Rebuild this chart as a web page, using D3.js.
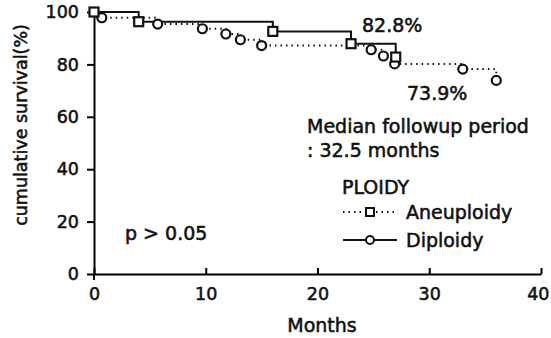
<!DOCTYPE html>
<html>
<head>
<meta charset="utf-8">
<script src="https://cdn.jsdelivr.net/npm/d3@7"></script>
<style>
  body { margin: 0; background: #fff; }
  text { font-family: "DejaVu Sans", sans-serif; fill: #111; stroke: #111; stroke-width: 0.55px; }
</style>
</head>
<body>
<div id="chart"></div>
<script>
// solid line, squares
let solidMonths = [0, 4, 16, 23, 27]
let solidSurv = [100, 96.3, 92.6, 87.9, 82.8]

// dotted line, circles
let dotMonths = [0, 0.7, 5.7, 9.7, 11.8, 13.1, 15, 24.8, 25.9, 26.9, 33, 36]
let dotSurv = [100, 97.8, 95.4, 93.6, 91.6, 89.4, 87.2, 85.6, 83.2, 80.2, 78.2, 73.9]

let xTicks = [0, 10, 20, 30, 40]
let yTicks = [0, 20, 40, 60, 80, 100]

let svgWidth = 551
let svgHeight = 338

let x = d3.scaleLinear().domain([0, 40]).range([94, 541])
let y = d3.scaleLinear().domain([0, 100]).range([274, 12])

let svg = d3.select('#chart')
    .append('svg')
        .attr('width', svgWidth)
        .attr('height', svgHeight)

let solidData = solidMonths.map(function(m, i){ return {m: m, s: solidSurv[i]} })
let dotData = dotMonths.map(function(m, i){ return {m: m, s: dotSurv[i]} })

let stepLine = d3.line()
    .x(function(d){ return x(d.m) })
    .y(function(d){ return y(d.s) })
    .curve(d3.curveStepAfter)

//AXES
svg.append('g')
    .attr('transform', `translate(0, ${y(0)})`)
    .call(d3.axisBottom(x).tickValues(xTicks).tickSizeInner(-6).tickSizeOuter(0).tickPadding(14))
    .call(function(g){
        g.select('.domain').attr('stroke-width', 2)
        g.selectAll('.tick line').attr('stroke-width', 2)
        g.selectAll('.tick text').attr('font-size', 17.5).attr('fill', '#111')
        // last label sits flush with the right edge
        g.selectAll('.tick text').filter(function(d){ return d === 40 })
            .attr('text-anchor', 'end').attr('x', 8)
    })

svg.append('g')
    .attr('transform', `translate(${x(0)}, 0)`)
    .call(d3.axisLeft(y).tickValues(yTicks).tickSizeInner(7).tickSizeOuter(0).tickPadding(8))
    .call(function(g){
        g.select('.domain').attr('stroke-width', 2)
        g.selectAll('.tick line').attr('stroke-width', 2)
        g.selectAll('.tick text').attr('font-size', 17.5).attr('fill', '#111')
    })

// little tick below origin
svg.append('line')
    .attr('x1', x(0)).attr('x2', x(0))
    .attr('y1', y(0)).attr('y2', y(0) + 6)
    .attr('stroke', '#111').attr('stroke-width', 2)

//LINES
svg.append('path')
    .datum(dotData)
    .attr('d', stepLine)
    .attr('fill', 'none')
    .attr('stroke', '#111')
    .attr('stroke-width', 2)
    .attr('stroke-dasharray', '1.5,4')

svg.append('path')
    .datum(solidData)
    .attr('d', stepLine)
    .attr('fill', 'none')
    .attr('stroke', '#111')
    .attr('stroke-width', 2)

//MARKERS
svg.selectAll('.circ')
    .data(dotData.slice(1))
    .enter()
    .append('circle')
        .attr('cx', function(d){ return x(d.m) })
        .attr('cy', function(d){ return y(d.s) })
        .attr('r', 4.5)
        .attr('fill', '#fff')
        .attr('stroke', '#111')
        .attr('stroke-width', 2.2)

svg.selectAll('.sq')
    .data(solidData)
    .enter()
    .append('rect')
        .attr('x', function(d){ return x(d.m) - 4.5 })
        .attr('y', function(d){ return y(d.s) - 4.5 })
        .attr('width', 9)
        .attr('height', 9)
        .attr('fill', '#fff')
        .attr('stroke', '#111')
        .attr('stroke-width', 2.2)

//TEXT
function label(tx, ty, str, size, anchor){
    svg.append('text')
        .attr('x', tx).attr('y', ty)
        .attr('font-size', size)
        .attr('text-anchor', anchor || 'start')
        .text(str)
}

label(362, 32, '82.8%', 19)
label(407, 100, '73.9%', 19)
label(307, 133, 'Median followup period', 19)
label(307, 157, ': 32.5 months', 19)
label(342, 194, 'PLOIDY', 19)
label(406, 219, 'Aneuploidy', 19)
label(406, 247, 'Diploidy', 19)
label(125, 240, 'p > 0.05', 19)
label(322, 332, 'Months', 19, 'middle')

svg.append('text')
    .attr('transform', 'translate(27, 125) rotate(-90)')
    .attr('font-size', 17.5)
    .attr('text-anchor', 'middle')
    .text('cumulative survival(%)')

//LEGEND
svg.append('line')
    .attr('x1', 343).attr('x2', 397).attr('y1', 212).attr('y2', 212)
    .attr('stroke', '#111').attr('stroke-width', 2).attr('stroke-dasharray', '1.5,4')
svg.append('rect')
    .attr('x', 366).attr('y', 208).attr('width', 8).attr('height', 8)
    .attr('fill', '#fff').attr('stroke', '#111').attr('stroke-width', 2)

svg.append('line')
    .attr('x1', 343).attr('x2', 397).attr('y1', 240).attr('y2', 240)
    .attr('stroke', '#111').attr('stroke-width', 2)
svg.append('circle')
    .attr('cx', 370).attr('cy', 240).attr('r', 4)
    .attr('fill', '#fff').attr('stroke', '#111').attr('stroke-width', 2)
</script>
</body>
</html>
